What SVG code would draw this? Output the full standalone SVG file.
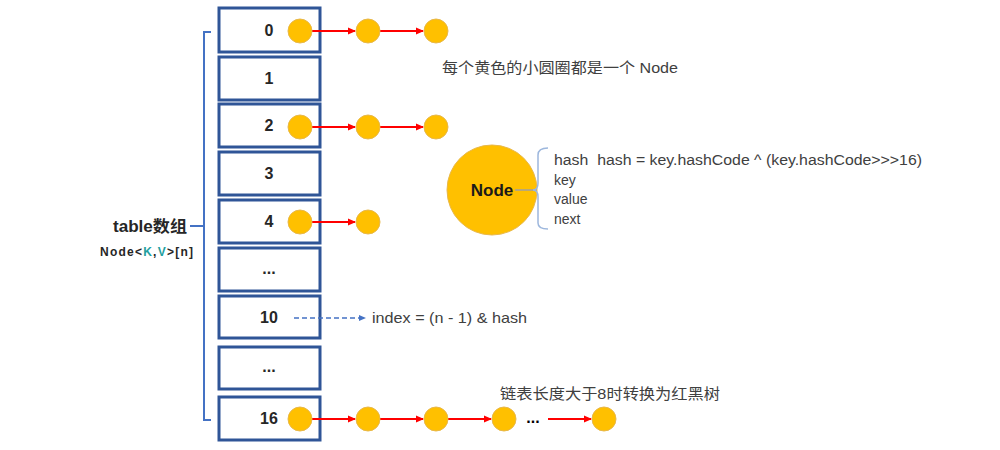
<svg xmlns="http://www.w3.org/2000/svg" width="1000" height="450" viewBox="0 0 1000 450">
<defs>
<marker id="ar" markerWidth="8" markerHeight="8" refX="7" refY="4" orient="auto" markerUnits="userSpaceOnUse"><path d="M0,0.5 L8,4 L0,7.5 Z" fill="#FF0000"/></marker>
<marker id="ab" markerWidth="7" markerHeight="7" refX="6" refY="3.5" orient="auto" markerUnits="userSpaceOnUse"><path d="M0,0.5 L7,3.5 L0,6.5 Z" fill="#4472C4"/></marker>
<style>
.box{fill:#fff;stroke:#2F5597;stroke-width:3}
.lbl{font-family:"Liberation Sans",Arial,sans-serif;font-size:16px;font-weight:bold;fill:#262626;text-anchor:middle}
.dot{fill:#FFC000;stroke:#E8B84A;stroke-width:1}
.red{stroke:#FF0000;stroke-width:2;fill:none;marker-end:url(#ar)}
.txt{font-family:"Liberation Sans","Noto Sans CJK SC",sans-serif;font-size:15px;fill:#404040}
</style>
</defs>
<rect width="1000" height="450" fill="#fff"/>
<g id="table">
<g id="b0"><rect class="box" x="219" y="8" width="101" height="44"/><text class="lbl" x="269" y="36">0</text></g>
<g id="b1"><rect class="box" x="219" y="57" width="101" height="43"/><text class="lbl" x="269" y="84">1</text></g>
<g id="b2"><rect class="box" x="219" y="104" width="101" height="43"/><text class="lbl" x="269" y="131">2</text></g>
<g id="b3"><rect class="box" x="219" y="152" width="101" height="43"/><text class="lbl" x="269" y="179">3</text></g>
<g id="b4"><rect class="box" x="219" y="200" width="101" height="43"/><text class="lbl" x="269" y="227">4</text></g>
<g id="b5"><rect class="box" x="219" y="248" width="101" height="43"/><text class="lbl" x="269" y="274">...</text></g>
<g id="b10"><rect class="box" x="219" y="296" width="101" height="42"/><text class="lbl" x="269" y="323">10</text></g>
<g id="b11"><rect class="box" x="219" y="347" width="101" height="42"/><text class="lbl" x="269" y="372">...</text></g>
<g id="b16"><rect class="box" x="219" y="397" width="101" height="43"/><text class="lbl" x="269" y="424">16</text></g>
</g>
<g id="bracket" fill="none" stroke="#4472C4" stroke-width="2">
<path d="M211,32 L204,32 L204,420 L211,420"/>
<path d="M190,226 L204,226"/>
</g>
<g id="tablelabel" font-family="'Liberation Sans','Noto Sans CJK SC',sans-serif" font-weight="bold" fill="#262626">
<text x="113" y="232" font-size="16" textLength="74" lengthAdjust="spacingAndGlyphs">table数组</text>
<text x="100" y="256" font-size="12" textLength="93" lengthAdjust="spacing">Node&lt;<tspan fill="#1FA0A0">K</tspan>,<tspan fill="#1FA0A0">V</tspan>&gt;[n]</text>
</g>
<g id="connectors">
<line class="red" x1="312" y1="31" x2="355" y2="31"/>
<line class="red" x1="380" y1="31" x2="423" y2="31"/>
<line class="red" x1="312" y1="127" x2="355" y2="127"/>
<line class="red" x1="380" y1="127" x2="423" y2="127"/>
<line class="red" x1="312" y1="222" x2="355" y2="222"/>
<line class="red" x1="312" y1="419" x2="355" y2="419"/>
<line class="red" x1="380" y1="419" x2="423" y2="419"/>
<line class="red" x1="448" y1="419" x2="491" y2="419"/>
<line class="red" x1="548" y1="419" x2="591" y2="419"/>
<line x1="294" y1="318" x2="365" y2="318" stroke="#4472C4" stroke-width="1.5" stroke-dasharray="5,3" marker-end="url(#ab)"/>
</g>
<g id="nodes">
<circle class="dot" cx="300" cy="31" r="12"/><circle class="dot" cx="368" cy="31" r="12"/><circle class="dot" cx="436" cy="31" r="12"/>
<circle class="dot" cx="300" cy="127" r="12"/><circle class="dot" cx="368" cy="127" r="12"/><circle class="dot" cx="436" cy="127" r="12"/>
<circle class="dot" cx="300" cy="222" r="12"/><circle class="dot" cx="368" cy="222" r="12"/>
<circle class="dot" cx="300" cy="419" r="12"/><circle class="dot" cx="368" cy="419" r="12"/><circle class="dot" cx="436" cy="419" r="12"/><circle class="dot" cx="504" cy="419" r="12"/><circle class="dot" cx="604" cy="419" r="12"/>
</g>
<text class="lbl" x="533" y="423" style="fill:#000">...</text>
<g id="bignode">
<circle cx="492" cy="190" r="45" fill="#FFC000" stroke="#E8B84A" stroke-width="1"/>
<text x="492" y="196" font-family="'Liberation Sans',sans-serif" font-size="17" font-weight="bold" fill="#1a1a1a" text-anchor="middle">Node</text>
<line x1="515" y1="190" x2="537" y2="190" stroke="#A0A0A0" stroke-width="1.5"/>
<path d="M548,148 Q538,148 538,155 L538,183 Q538,190 533,190 Q538,190 538,197 L538,223 Q538,229 548,229" fill="none" stroke="#9DB7DD" stroke-width="1.5"/>
<text class="txt" x="554" y="165" style="font-size:14px" xml:space="preserve" textLength="368" lengthAdjust="spacingAndGlyphs">hash  hash = key.hashCode ^ (key.hashCode&gt;&gt;&gt;16)</text>
<text class="txt" x="554" y="185" style="font-size:14px">key</text>
<text class="txt" x="554" y="204" style="font-size:14px">value</text>
<text class="txt" x="554" y="224" style="font-size:14px">next</text>
</g>
<text class="txt" x="442" y="73" xml:space="preserve" textLength="236" lengthAdjust="spacingAndGlyphs">每个黄色的小圆圈都是一个 Node</text>
<text class="txt" x="372" y="323" textLength="155" lengthAdjust="spacingAndGlyphs">index = (n - 1) &amp; hash</text>
<text class="txt" x="500" y="399" textLength="220" lengthAdjust="spacingAndGlyphs">链表长度大于8时转换为红黑树</text>
</svg>
